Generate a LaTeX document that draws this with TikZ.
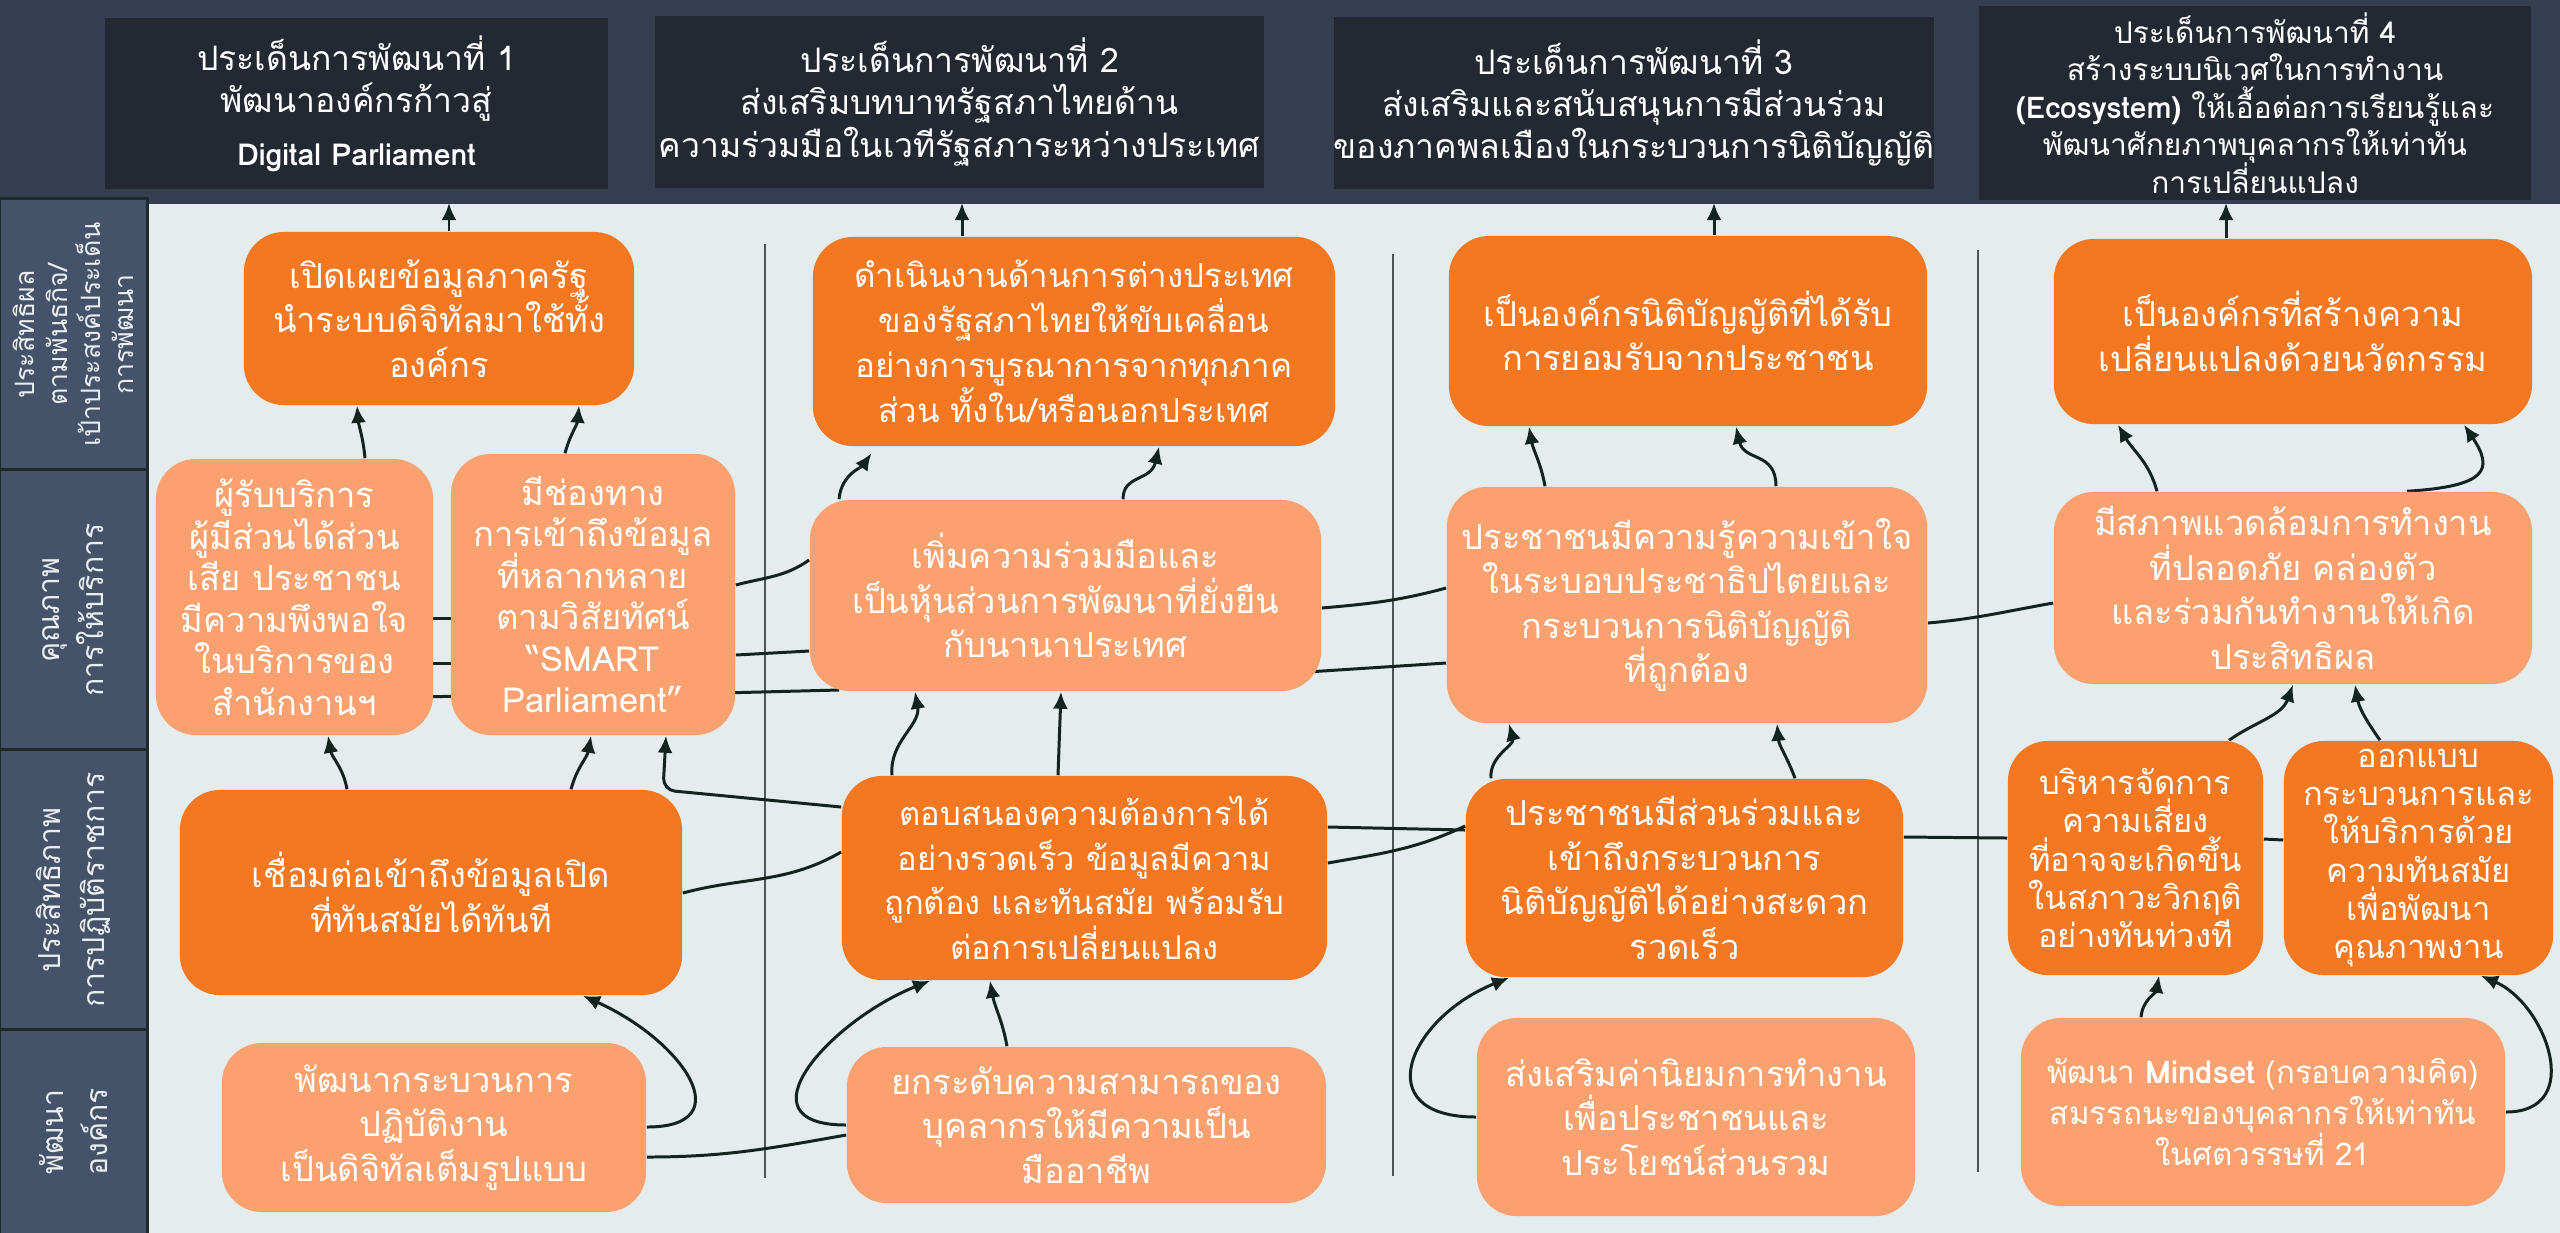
\documentclass[tikz,border=0pt]{standalone}
\usepackage{fontspec}
\setmainfont{Loma}[Script=Thai]
\usetikzlibrary{arrows.meta, positioning, calc}

\definecolor{hdrbg}{RGB}{52,62,80}
\definecolor{hdrbox}{RGB}{34,41,51}
\definecolor{lanebox}{RGB}{68,83,106}
\definecolor{laneline}{RGB}{30,43,40}
\definecolor{panel}{RGB}{228,236,237}
\definecolor{orgdark}{RGB}{244,119,33}
\definecolor{orglight}{RGB}{251,161,111}
\definecolor{wire}{RGB}{19,36,30}

% fixed line pitch inside the boxes
\newcommand\fixpitch{\lineskiplimit=-\maxdimen}

\pgfdeclarelayer{bg}
\pgfdeclarelayer{wires}
\pgfsetlayers{bg,wires,main}

\begin{document}
\begin{tikzpicture}
[
	x=0.01cm, y=0.01cm,
	boxsize/.style 2 args = {minimum width=#1, minimum height=#2},
	head/.style = {fill=hdrbox, text=white, inner sep=0pt, align=center, font=\fontsize{9.6}{12}\selectfont\fixpitch},
	lane/.style = {draw=laneline, line width=0.85pt, fill=lanebox, text=white!90!lanebox, inner sep=0pt, align=center, font=\fontsize{8.6}{12.5}\selectfont\fixpitch},
	hard/.style = {fill=orgdark, rounded corners=0.4cm, text=white, inner sep=0pt, align=center, font=\fontsize{9.8}{12.7}\selectfont\fixpitch},
	soft/.style = {fill=orglight, rounded corners=0.4cm, text=white, inner sep=0pt, align=center, font=\fontsize{9.8}{12.7}\selectfont\fixpitch},
	sep/.style = {draw=laneline!80, line width=0.45pt},
	link/.style = {draw=wire, line width=0.85pt},
	arr/.style = {link, -{Latex[length=1.7mm, width=1.5mm]}}
]
\useasboundingbox (0,0) rectangle (2560,-1232);

% background, lanes, column rules
\begin{pgfonlayer}{bg}
\fill[hdrbg] (0,0) rectangle (2560,-1232);
\node[fill=panel, inner sep=0pt, anchor=north west, boxsize={24.12cm}{10.29cm}] (panel) at (148,-203) {};
\node[lane, rotate=90, boxsize={2.71cm}{1.47cm}, font=\fontsize{7.6}{9.4}\selectfont\fixpitch] (L1) at (73.5,-334.5) {ประสิทธิผล\\ตามพันธกิจ/\\เป้าประสงค์ประเด็น\\การพัฒนา};
\node[lane, rotate=90, boxsize={2.80cm}{1.47cm}] (L2) at (73.5,-610) {คุณภาพ\\การให้บริการ};
\node[lane, rotate=90, boxsize={2.80cm}{1.47cm}] (L3) at (73.5,-890) {ประสิทธิภาพ\\การปฏิบัติราชการ};
\node[lane, rotate=90, boxsize={2.04cm}{1.47cm}] (L4) at (73.5,-1132) {พัฒนา\\องค์กร};
\draw[sep] (765,-244) -- (765,-1178);
\draw[sep] (1393,-254) -- (1393,-1176);
\draw[sep] (1978,-250) -- (1978,-1172);
\end{pgfonlayer}

% headers
\node[head, boxsize={5.03cm}{1.71cm}] (H1) at (356.5,-103.5) {ประเด็นการพัฒนาที่ 1\\พัฒนาองค์กรก้าวสู่\\[3pt]{\fontsize{8.6}{10}\selectfont\bfseries Digital Parliament}};
\node[head, boxsize={6.09cm}{1.72cm}] (H2) at (959.5,-102) {ประเด็นการพัฒนาที่ 2\\ส่งเสริมบทบาทรัฐสภาไทยด้าน\\ความร่วมมือในเวทีรัฐสภาระหว่างประเทศ};
\node[head, boxsize={5.98cm}{1.72cm}] (H3) at (1634,-103) {ประเด็นการพัฒนาที่ 3\\ส่งเสริมและสนับสนุนการมีส่วนร่วม\\ของภาคพลเมืองในกระบวนการนิติบัญญัติ};
\node[head, boxsize={5.52cm}{1.94cm}, font=\fontsize{8.5}{10.7}\selectfont\fixpitch] (H4) at (2255,-103) {ประเด็นการพัฒนาที่ 4\\สร้างระบบนิเวศในการทำงาน\\{\bfseries (Ecosystem)} ให้เอื้อต่อการเรียนรู้และ\\พัฒนาศักยภาพบุคลากรให้เท่าทัน\\การเปลี่ยนแปลง};

% outcome row
\node[hard, boxsize={3.90cm}{1.73cm}] (A1) at (439,-318.5) {เปิดเผยข้อมูลภาครัฐ\\นำระบบดิจิทัลมาใช้ทั้ง\\องค์กร};
\node[hard, boxsize={5.22cm}{2.09cm}, font=\fontsize{9.4}{12.8}\selectfont\fixpitch] (A2) at (1074,-341.5) {ดำเนินงานด้านการต่างประเทศ\\ของรัฐสภาไทยให้ขับเคลื่อน\\อย่างการบูรณาการจากทุกภาค\\ส่วน ทั้งใน/หรือนอกประเทศ};
\node[hard, boxsize={4.78cm}{1.90cm}] (A3) at (1688,-331) {เป็นองค์กรนิติบัญญัติที่ได้รับ\\การยอมรับจากประชาชน};
\node[hard, boxsize={4.78cm}{1.85cm}] (A4) at (2293,-331.5) {เป็นองค์กรที่สร้างความ\\เปลี่ยนแปลงด้วยนวัตกรรม};

% service row
\node[soft, boxsize={2.77cm}{2.76cm}, font=\fontsize{9.8}{11.8}\selectfont\fixpitch] (B1) at (294.5,-597) {ผู้รับบริการ\\ผู้มีส่วนได้ส่วน\\เสีย ประชาชน\\มีความพึงพอใจ\\ในบริการของ\\สำนักงานฯ};
\node[soft, boxsize={2.84cm}{2.81cm}, font=\fontsize{9.8}{11.8}\selectfont\fixpitch] (B2) at (593,-594.5) {มีช่องทาง\\การเข้าถึงข้อมูล\\ที่หลากหลาย\\ตามวิสัยทัศน์\\“SMART\\Parliament”};
\node[soft, boxsize={5.11cm}{1.91cm}] (B3) at (1065.5,-595.5) {เพิ่มความร่วมมือและ\\เป็นหุ้นส่วนการพัฒนาที่ยั่งยืน\\กับนานาประเทศ};
\node[soft, boxsize={4.80cm}{2.36cm}] (B4) at (1687,-605) {ประชาชนมีความรู้ความเข้าใจ\\ในระบอบประชาธิปไตยและ\\กระบวนการนิติบัญญัติ\\ที่ถูกต้อง};
\node[soft, boxsize={4.78cm}{1.92cm}] (B5) at (2293,-588) {มีสภาพแวดล้อมการทำงาน\\ที่ปลอดภัย คล่องตัว\\และร่วมกันทำงานให้เกิด\\ประสิทธิผล};

% operation row
\node[hard, boxsize={5.02cm}{2.05cm}] (C1) at (431,-892.5) {เชื่อมต่อเข้าถึงข้อมูลเปิด\\ที่ทันสมัยได้ทันที};
\node[hard, boxsize={4.85cm}{2.04cm}, font=\fontsize{9.3}{12.7}\selectfont\fixpitch] (C2) at (1084.5,-878) {ตอบสนองความต้องการได้\\อย่างรวดเร็ว ข้อมูลมีความ\\ถูกต้อง และทันสมัย พร้อมรับ\\ต่อการเปลี่ยนแปลง};
\node[hard, boxsize={4.37cm}{1.98cm}] (C3) at (1684.5,-878) {ประชาชนมีส่วนร่วมและ\\เข้าถึงกระบวนการ\\นิติบัญญัติได้อย่างสะดวก\\รวดเร็ว};
\node[hard, boxsize={2.55cm}{2.34cm}, font=\fontsize{9.3}{10.9}\selectfont\fixpitch] (C4) at (2135.5,-858) {บริหารจัดการ\\ความเสี่ยง\\ที่อาจจะเกิดขึ้น\\ในสภาวะวิกฤติ\\อย่างทันท่วงที};
\node[hard, boxsize={2.69cm}{2.34cm}, font=\fontsize{9.3}{10.9}\selectfont\fixpitch] (C5) at (2418.5,-858) {ออกแบบ\\กระบวนการและ\\ให้บริการด้วย\\ความทันสมัย\\เพื่อพัฒนา\\คุณภาพงาน};

% organisation row
\node[soft, boxsize={4.24cm}{1.69cm}] (D1) at (434,-1127.5) {พัฒนากระบวนการ\\ปฏิบัติงาน\\เป็นดิจิทัลเต็มรูปแบบ};
\node[soft, boxsize={4.79cm}{1.56cm}] (D2) at (1086.5,-1125) {ยกระดับความสามารถของ\\บุคลากรให้มีความเป็น\\มืออาชีพ};
\node[soft, boxsize={4.38cm}{1.98cm}] (D3) at (1696,-1117) {ส่งเสริมค่านิยมการทำงาน\\เพื่อประชาชนและ\\ประโยชน์ส่วนรวม};
\node[soft, boxsize={4.84cm}{1.88cm}, font=\fontsize{8.9}{11.7}\selectfont\fixpitch] (D4) at (2263,-1112) {พัฒนา {\bfseries Mindset} (กรอบความคิด)\\สมรรถนะของบุคลากรให้เท่าทัน\\ในศตวรรษที่ 21};

\begin{pgfonlayer}{wires}
% outcomes up to the issues
\draw[arr] (449,0 |- A1.north) -- (449,0 |- panel.north);
\draw[arr] (962,0 |- A2.north) -- (962,0 |- panel.north);
\draw[arr] (1714,0 |- A3.north) -- (1714,0 |- panel.north);
\draw[arr] (2226,0 |- A4.north) -- (2226,0 |- panel.north);

% service to outcome
\draw[arr] (365,0 |- B1.north) to[out=95,in=-85] (357,0 |- A1.south);
\draw[arr] (565,0 |- B2.north) to[out=75,in=-95] (579,0 |- A1.south);
\draw[arr, shorten >=0.08cm] (839,0 |- B3.north) to[out=85,in=-125] (876,0 |- A2.south);
\draw[arr] (1123,0 |- B3.north) .. controls +(0,25) and +(-8,-35) .. (1159,0 |- A2.south);
\draw[arr] (1545,0 |- B4.north) to[out=100,in=-80] (1529,0 |- A3.south);
\draw[arr] (1776,0 |- B4.north) .. controls +(0,35) and +(8,-35) .. (1736,0 |- A3.south);
\draw[arr] (2157,0 |- B5.north) to[out=105,in=-60] (2118,0 |- A4.south);
\draw[arr] (2407,0 |- B5.north) .. controls +(80,5) and +(30,-45) .. (2464,0 |- A4.south);

% lines across the service row
\draw[link] ($(B1.east |- 0,-618)+(-15,0)$) -- ($(B2.west |- 0,-618)+(15,0)$);
\draw[link] ($(B1.east |- 0,-663)+(-15,0)$) -- ($(B2.west |- 0,-663)+(15,0)$);
\draw[link] ($(B1.east |- 0,-697)+(-15,0)$) -- ($(B2.west |- 0,-696)+(15,0)$);
\draw[link] (B2.east |- 0,-585) to[out=15,in=-145] (B3.west |- 0,-560);
\draw[link] (B2.east |- 0,-655) -- (B3.west |- 0,-651);
\draw[link] ($(B2.east |- 0,-693)+(-15,0)$) -- ($(B3.west |- 0,-690)+(30,0)$);
\draw[link] (B3.east |- 0,-608) to[out=5,in=-165] (B4.west |- 0,-588);
\draw[link] ($(B3.east |- 0,-672)+(-15,0)$) -- (B4.west |- 0,-663);
\draw[link] (B4.east |- 0,-623) to[out=5,in=-170] (B5.west |- 0,-603);

% operation to service
\draw[arr] (347,0 |- C1.north) to[out=100,in=-80] (328,0 |- B1.south);
\draw[arr] (571,0 |- C1.north) to[out=75,in=-100] (591,0 |- B2.south);
\draw[arr, rounded corners=0.12cm] (C2.west |- 0,-807) -- (663,-790) -- (666,0 |- B2.south);
\draw[arr] (892,0 |- C2.north) to[out=95,in=-80] (915,0 |- B3.south);
\draw[arr] (1058,0 |- C2.north) -- (1061,0 |- B3.south);
\draw[arr] (1491,0 |- C3.north) to[out=95,in=-75] (1509,0 |- B4.south);
\draw[arr] (1795,0 |- C3.north) to[out=110,in=-85] (1777,0 |- B4.south);
\draw[arr] (2229,0 |- C4.north) to[out=35,in=-110] (2293,0 |- B5.south);
\draw[arr] (2380,0 |- C5.north) to[out=125,in=-80] (2355,0 |- B5.south);

% lines across the operation row
\draw[link] (C1.east |- 0,-893) to[out=15,in=-150] (C2.west |- 0,-852);
\draw[link] (C2.east |- 0,-827) -- (C3.west |- 0,-830);
\draw[link] (C2.east |- 0,-863) to[out=10,in=-155] (C3.west |- 0,-826);
\draw[link] (C3.east |- 0,-837) -- (C4.west |- 0,-838);
\draw[link] (C4.east |- 0,-839) -- (C5.west |- 0,-840);

% organisation to operation
\draw[arr] (D1.east |- 0,-1127) .. controls +(95,0) and +(100,-45) .. (583,0 |- C1.south);
\draw[link] (D1.east |- 0,-1157) to[out=0,in=190] (D2.west |- 0,-1135);
\draw[arr] (D2.west |- 0,-1125) .. controls +(-110,0) and +(-100,-40) .. (930,0 |- C2.south);
\draw[arr] (1007,0 |- D2.north) to[out=100,in=-80] (990,0 |- C2.south);
\draw[arr] (D3.west |- 0,-1117) .. controls +(-110,0) and +(-100,-40) .. (1509,0 |- C3.south);
\draw[arr] (2141,0 |- D4.north) to[out=85,in=-100] (2159,0 |- C4.south);
\draw[arr] (D4.east |- 0,-1112) .. controls +(80,0) and +(65,-28) .. (2481,0 |- C5.south);
\end{pgfonlayer}
\end{tikzpicture}
\end{document}
